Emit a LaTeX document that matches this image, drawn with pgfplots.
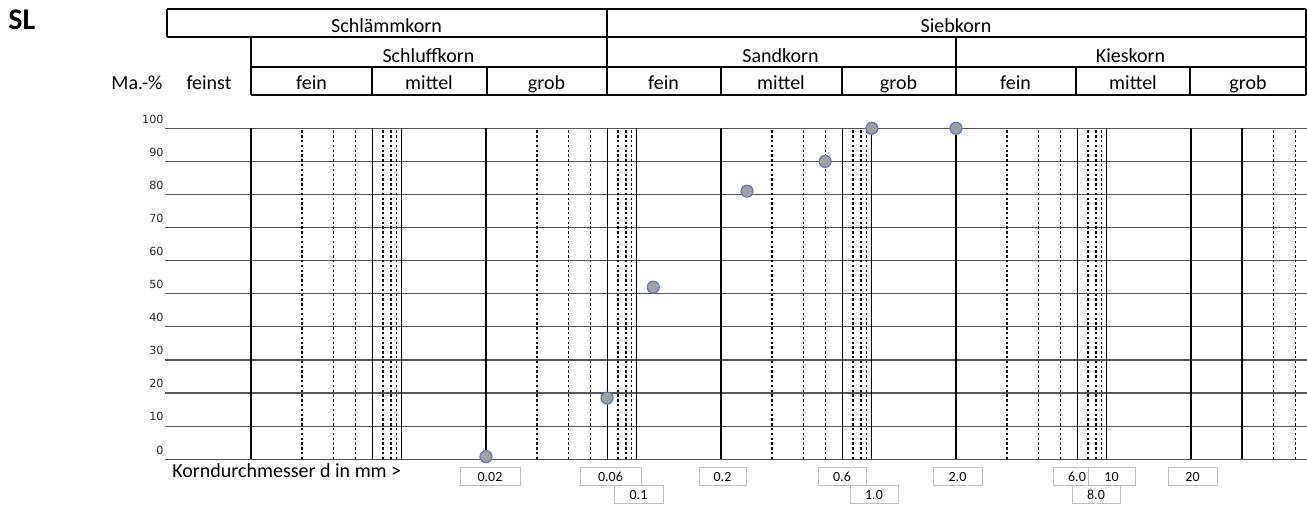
\documentclass[border=0pt]{standalone}
\usepackage{fontspec}
\setmainfont{Carlito}
\newfontfamily\dejavu{DejaVu Sans}
\usepackage{pgfplots}
\pgfplotsset{compat=1.18}
\definecolor{markfill}{HTML}{A0A0A0}
\definecolor{markedge}{HTML}{5A7AB8}
\definecolor{gridgray}{HTML}{555555}
\definecolor{boxgray}{HTML}{BFBFBF}
\newcommand\hdr{\fontsize{10}{12}\selectfont}
\newcommand\bx{\fontsize{7}{8}\selectfont}

\begin{document}
\begin{tikzpicture}
\useasboundingbox (0,0) rectangle (653.5pt,-253pt);
\begin{axis}[
  at={(82.5pt,-229.65pt)}, anchor=south west,
  scale only axis, width=571pt, height=165.5pt,
  xmode=log, xmin=0.000861, xmax=62.33,
  ymin=0, ymax=100, enlargelimits=false,
  clip=false,
  axis line style={draw=none},
  xtick=\empty, minor xtick={},
  ytick={0,10,20,30,40,50,60,70,80,90,100},
  yticklabels={0,10,20,30,40,50,60,70,80,90,100},
  major tick length=0pt, tick style={draw=none},
  ymajorgrids=true,
  major grid style={draw=gridgray, line width=0.6pt},
  yticklabel style={font=\dejavu\fontsize{5.6}{6}\selectfont, text=black!85,
    anchor=south east, inner sep=0pt, xshift=-0.5pt, yshift=2.35pt},
]
% solid vertical grid lines
\pgfplotsinvokeforeach{0.002,0.0065506,0.0087664,0.02,0.065506,0.087664,0.2,0.65506,0.87664,2,6.5506,8.7664,20,32.968}{
  \draw[black, line width=0.55pt] (axis cs:#1,0) -- (axis cs:#1,100);
}
% dashed vertical grid lines
\pgfplotsinvokeforeach{0.0032968,0.004488,0.0055528,0.0072908,0.0078862,0.0082984,0.032968,0.04488,0.055528,0.072908,0.078862,0.082984,0.32968,0.4488,0.55528,0.72908,0.78862,0.82984,3.2968,4.488,5.5528,7.2908,7.8862,8.2984,44.88,55.528}{
  \draw[black, line width=0.55pt, dash pattern=on 1.2pt off 1.2pt] (axis cs:#1,0) -- (axis cs:#1,100);
}
\addplot[only marks, mark=*, mark size=3pt,
  mark options={fill=markfill, draw=markedge, line width=0.6pt}]
  coordinates {
  (0.02,0.8)
  (0.0655,18.5)
  (0.103,52)
  (0.258,81)
  (0.555,90)
  (0.877,100)
  (2.0,100)
};
\end{axis}

\begin{scope}[x=0.5pt,y=-0.5pt]
  % header table
  \draw[line width=1pt] (167,9.5) -- (1305.5,9.5);
  \draw[line width=1pt] (167,37) -- (1305.5,37);
  \draw[line width=1pt] (251,67) -- (1305.5,67);
  \draw[line width=1pt] (251,95.5) -- (1305.5,95.5);
  \draw[line width=1pt] (167,9.5) -- (167,37);
  \draw[line width=1pt] (1305.5,9.5) -- (1305.5,95.5);
  \draw[line width=1pt] (251,37) -- (251,95.5);
  \draw[line width=1pt] (606.5,9.5) -- (606.5,95.5);
  \draw[line width=1pt] (955.5,37) -- (955.5,95.5);
  \foreach \xx in {372,486.5,720.5,841.5,1076,1190}{
    \draw[line width=1pt] (\xx,67) -- (\xx,95.5);
  }
  % header texts
  \node[anchor=base, font=\hdr] at (386.5,33) {Schlämmkorn};
  \node[anchor=base, font=\hdr] at (956,33) {Siebkorn};
  \node[anchor=base, font=\hdr] at (428.5,62.5) {Schluffkorn};
  \node[anchor=base, font=\hdr] at (780.5,62.5) {Sandkorn};
  \node[anchor=base, font=\hdr] at (1130.5,62.5) {Kieskorn};
  \foreach \xx/\tt in {311.5/fein,429/mittel,546.5/grob,663.5/fein,781/mittel,898.5/grob,1015.5/fein,1133/mittel,1248/grob}{
    \node[anchor=base, font=\hdr] at (\xx,89.5) {\tt};
  }
  \node[anchor=base, font=\hdr] at (137,89.5) {Ma.-\%};
  \node[anchor=base, font=\hdr] at (209,89.5) {feinst};
  \node[anchor=base west, font=\fontsize{15}{17}\selectfont\bfseries, inner sep=0pt] at (8,29.5) {SL};
  % axis caption
  \node[anchor=base west, font=\hdr, inner sep=0pt] at (172,478) {Korndurchmesser d in mm >};
  % value boxes
  \foreach \xa/\xb/\ya/\yb/\tt in {460/520/468/486/0.02, 580/641/468/486/0.06, 614/663/486/504/0.1,
      699/746/468/486/0.2, 818/866/468/486/0.6, 850/898/486/504/1.0, 933/982/468/486/2.0,
      1053/1101/468/486/6.0, 1088/1135/468/486/10, 1072/1120/486/504/8.0, 1168/1217/468/486/20}{
    \filldraw[draw=boxgray, fill=white, line width=0.5pt] (\xa,\ya) rectangle (\xb,\yb);
    \node[font=\bx, inner sep=0pt] at ({(\xa+\xb)/2},{(\ya+\yb)/2}) {\tt};
  }
\end{scope}
\end{tikzpicture}
\end{document}
